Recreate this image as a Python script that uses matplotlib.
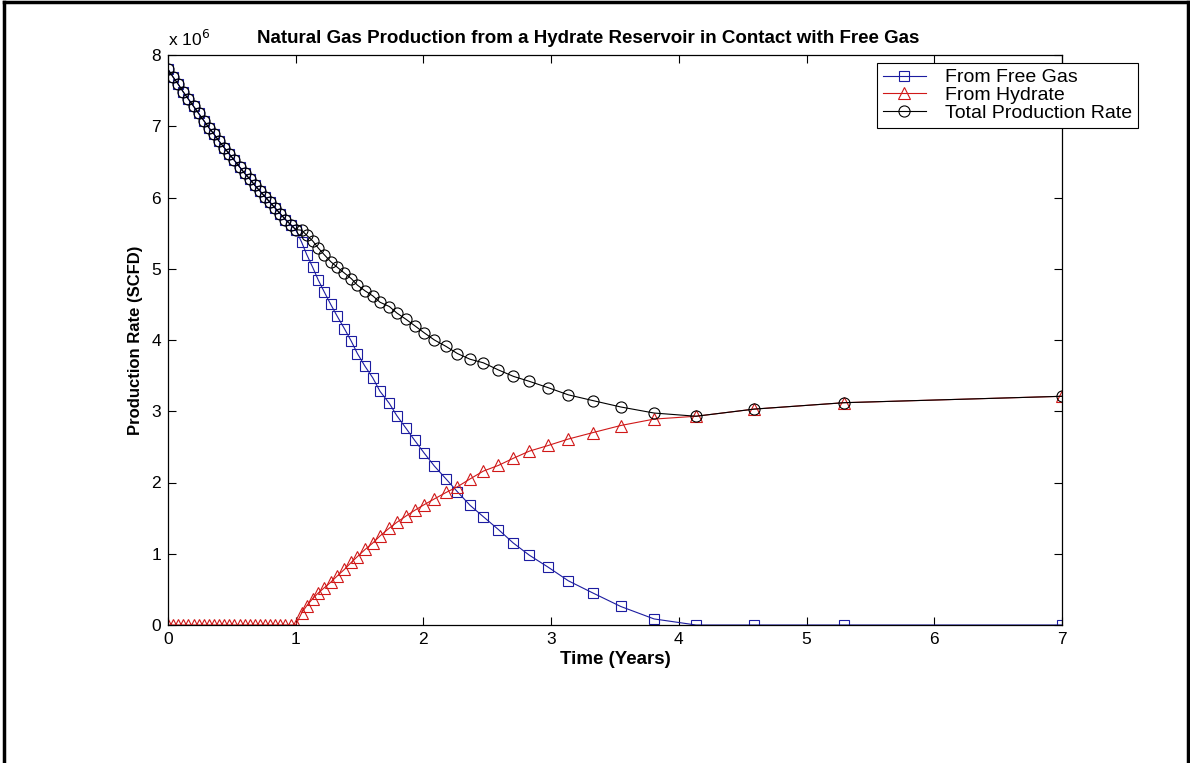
import numpy as np
import matplotlib
matplotlib.use("Agg")
import matplotlib.pyplot as plt
from matplotlib.lines import Line2D

plt.rcParams["font.family"] = ["Liberation Sans", "DejaVu Sans"]

# ── data (production rate in millions of SCFD) ──────────────────────────────
years = [0.00, 0.04, 0.08, 0.12, 0.16, 0.20, 0.24, 0.28, 0.32, 0.36,
         0.40, 0.44, 0.48, 0.52, 0.56, 0.60, 0.64, 0.68, 0.72, 0.76,
         0.80, 0.84, 0.88, 0.92, 0.96, 1.00,
         1.047, 1.086, 1.133, 1.177, 1.222, 1.274, 1.326, 1.381, 1.436, 1.483,
         1.543, 1.603, 1.660, 1.733, 1.791, 1.864, 1.932, 2.007, 2.086, 2.177,
         2.266, 2.365, 2.469, 2.587, 2.704, 2.829, 2.978, 3.135, 3.326, 3.545,
         3.806, 4.135, 4.589, 5.294, 7.000]

free_gas = [7.80, 7.69, 7.59, 7.48, 7.38, 7.28, 7.18, 7.08, 6.98, 6.89,
            6.79, 6.70, 6.61, 6.52, 6.43, 6.34, 6.26, 6.17, 6.09, 6.01,
            5.93, 5.85, 5.77, 5.69, 5.62, 5.55,
            5.37, 5.20, 5.02, 4.84, 4.68, 4.50, 4.33, 4.16, 3.98, 3.81,
            3.63, 3.47, 3.28, 3.11, 2.94, 2.76, 2.59, 2.41, 2.23, 2.05,
            1.87, 1.68, 1.52, 1.34, 1.15, 0.98, 0.81, 0.62, 0.45, 0.26,
            0.085, 0.0, 0.0, 0.0, 0.0]

hydrate = [0.0] * 26 + [
            0.17, 0.27, 0.37, 0.45, 0.52, 0.60, 0.69, 0.78, 0.88, 0.96,
            1.06, 1.15, 1.25, 1.36, 1.44, 1.53, 1.61, 1.69, 1.77, 1.86,
            1.94, 2.05, 2.16, 2.24, 2.34, 2.44, 2.52, 2.61, 2.70, 2.80,
            2.89, 2.93, 3.03, 3.12, 3.21]

# total is the sum of the two sources
total = np.array(free_gas) + np.array(hydrate)

x_ticks = [0, 1, 2, 3, 4, 5, 6, 7]
y_ticks = [0, 1, 2, 3, 4, 5, 6, 7, 8]

BLUE = "#1c1ca0"
RED = "#d01818"

# ── figure ──────────────────────────────────────────────────────────────────
fig = plt.figure(figsize=(11.9, 7.63), dpi=100)
ax = fig.add_axes([168 / 1190, 138 / 763, 894 / 1190, 570 / 763])

ax.plot(years, free_gas, color=BLUE, lw=0.8, marker="s", ms=7,
        mfc="none", mec=BLUE, mew=0.8, label="From Free Gas")
ax.plot(years, hydrate, color=RED, lw=0.8, marker="^", ms=8,
        mfc="none", mec=RED, mew=0.8, label="From Hydrate")
ax.plot(years, total, color="black", lw=0.8, marker="o", ms=8,
        mfc="none", mec="black", mew=0.8, label="Total Production Rate")

ax.set_xlim(0, 7)
ax.set_ylim(0, 8)
ax.set_xticks(x_ticks)
ax.set_yticks(y_ticks)
ax.tick_params(direction="in", top=True, right=True, length=6,
               width=0.8, labelsize=12.5, pad=5)
for spine in ax.spines.values():
    spine.set_linewidth(0.9)

ax.set_xlabel("Time (Years)", fontsize=13.5, fontweight="bold", labelpad=3)
ax.set_ylabel("Production Rate (SCFD)", fontsize=12, fontweight="bold",
              labelpad=6)
ax.set_title("Natural Gas Production from a Hydrate Reservoir in Contact with Free Gas",
             fontsize=13.5, fontweight="bold", x=0.47, pad=9)
ax.text(0.0, 1.01, r"x 10$^{6}$", transform=ax.transAxes, fontsize=12.5,
        ha="left", va="bottom")

leg = ax.legend(loc="upper right", bbox_to_anchor=(1138 / 1190, 1 - 63 / 763),
                bbox_transform=fig.transFigure, fontsize=14, frameon=True,
                fancybox=False, framealpha=1, edgecolor="black",
                handlelength=2.2, handletextpad=1.0, borderpad=0.3,
                labelspacing=0.0, borderaxespad=0)
leg.get_frame().set_linewidth(0.8)

# outer frame around the whole picture
for xs, ys in [((0.003, 0.003), (0.0, 0.997)),
               ((0.003, 0.998), (0.997, 0.997)),
               ((0.998, 0.998), (0.0, 0.997))]:
    fig.add_artist(Line2D(xs, ys, transform=fig.transFigure,
                          color="black", lw=2.5))

fig.savefig("out.png", dpi=100)
